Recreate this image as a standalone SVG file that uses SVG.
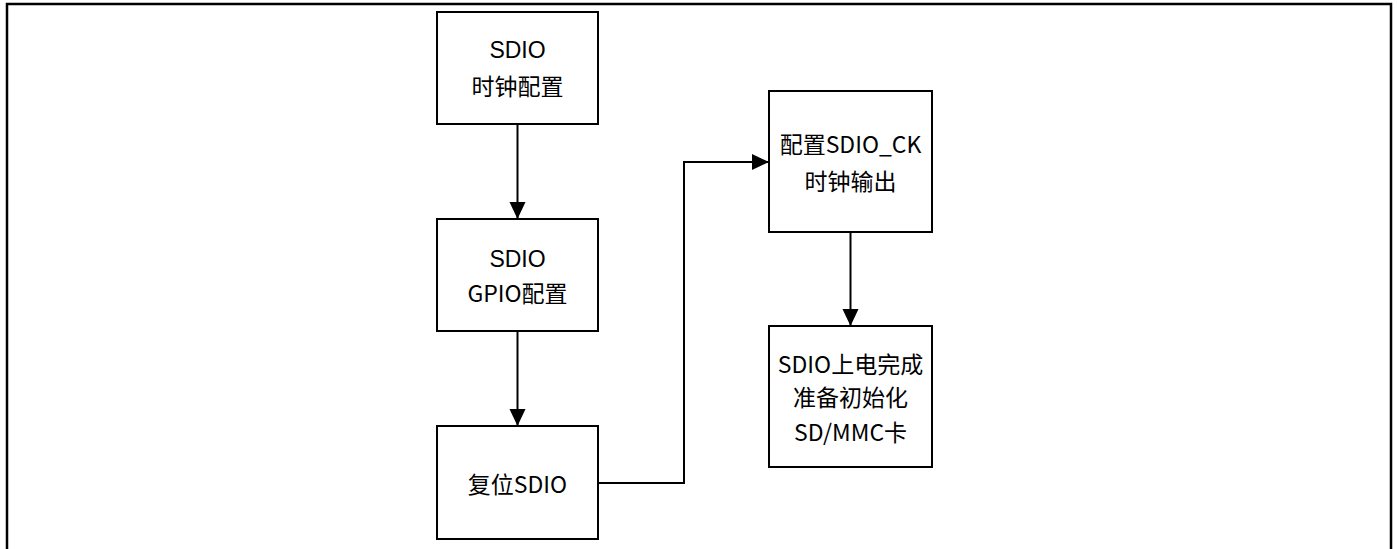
<svg xmlns="http://www.w3.org/2000/svg" width="1397" height="549" viewBox="0 0 1397 549">
<style>
.box{fill:#fff;stroke:#000;stroke-width:2}
.conn{fill:none;stroke:#000;stroke-width:2}
.ar{font-family:"Liberation Sans",Arial,sans-serif;font-size:23px;fill:#000;text-anchor:middle}
.cj{font-family:"Noto Sans CJK SC",sans-serif;font-size:23px;fill:#000;text-anchor:middle}
</style>
<defs>
<marker id="arrow" markerUnits="userSpaceOnUse" markerWidth="17" markerHeight="18" viewBox="0 0 18 17" refX="18" refY="8.5" orient="auto">
<path d="M0,0 L18,8.5 L0,17 Z" fill="#000"/>
</marker>
</defs>
<rect x="7" y="4" width="1384" height="570" fill="#fff" stroke="#000" stroke-width="2.5"/>
<g id="connectors">
<path class="conn" d="M517.5,124 V219" marker-end="url(#arrow)"/>
<path class="conn" d="M517.5,331 V426" marker-end="url(#arrow)"/>
<path class="conn" d="M598,483 H684 V162 H769" marker-end="url(#arrow)"/>
<path class="conn" d="M850.5,232 V326" marker-end="url(#arrow)"/>
</g>
<g id="n1">
<rect class="box" x="437" y="12" width="161" height="112"/>
<text class="ar" x="517.5" y="58">SDIO</text>
<text class="cj" x="517.5" y="95">时钟配置</text>
</g>
<g id="n2">
<rect class="box" x="437" y="219" width="161" height="112"/>
<text class="ar" x="517.5" y="267">SDIO</text>
<text class="cj" x="517.5" y="302">GPIO配置</text>
</g>
<g id="n3">
<rect class="box" x="437" y="426" width="161" height="113"/>
<text class="cj" x="517.5" y="493">复位SDIO</text>
</g>
<g id="n4">
<rect class="box" x="769" y="91" width="163" height="141"/>
<text class="cj" x="850.5" y="153">配置SDIO_CK</text>
<text class="cj" x="850.5" y="190">时钟输出</text>
</g>
<g id="n5">
<rect class="box" x="769" y="326" width="163" height="141"/>
<text class="cj" x="850.5" y="373">SDIO上电完成</text>
<text class="cj" x="850.5" y="406">准备初始化</text>
<text class="cj" x="850.5" y="441">SD/MMC卡</text>
</g>
</svg>
